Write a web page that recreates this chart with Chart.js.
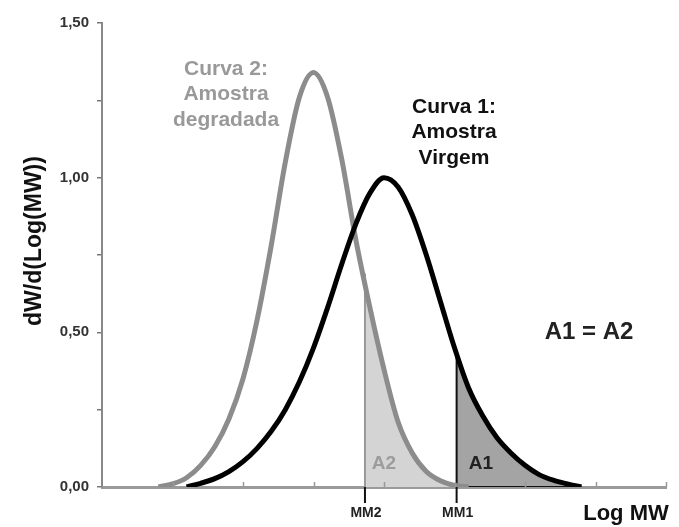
<!DOCTYPE html>
<html lang="pt">
<head>
<meta charset="utf-8">
<title>Curvas de distribuição de massa molar</title>
<script src="https://cdn.jsdelivr.net/npm/chart.js@4.4.1/dist/chart.umd.min.js"></script>
<style>
  html, body { margin: 0; padding: 0; background: #fff; }
  #wrap { width: 679px; height: 527px; }
</style>
</head>
<body>
<div id="wrap"><canvas id="chart" width="679" height="527"></canvas></div>
<script>
// Curva 2 - amostra degradada
const curve2LogMW = [0.8, 1.0, 1.2, 1.4, 1.6, 1.8, 2.0, 2.2, 2.4, 2.6, 2.8, 3.0, 3.2, 3.4, 3.6, 3.8, 4.0, 4.2, 4.4, 4.6, 4.8, 5.0, 5.2];
const curve2Values = [0.00, 0.01, 0.03, 0.07, 0.13, 0.22, 0.35, 0.54, 0.78, 1.05, 1.26, 1.34, 1.26, 1.06, 0.80, 0.58, 0.38, 0.21, 0.11, 0.05, 0.02, 0.005, 0.00];

// Curva 1 - amostra virgem
const curve1LogMW = [1.2, 1.4, 1.6, 1.8, 2.0, 2.2, 2.4, 2.6, 2.8, 3.0, 3.2, 3.4, 3.6, 3.8, 4.0, 4.2, 4.4, 4.6, 4.8, 5.0, 5.2, 5.4, 5.6, 5.8, 6.0, 6.2, 6.4, 6.6, 6.8];
const curve1Values = [0.00, 0.012, 0.027, 0.05, 0.082, 0.125, 0.18, 0.25, 0.34, 0.45, 0.58, 0.72, 0.85, 0.95, 1.00, 0.97, 0.88, 0.75, 0.60, 0.45, 0.32, 0.23, 0.16, 0.11, 0.07, 0.04, 0.022, 0.01, 0.00];

// cut points MM2 / MM1 and curve height at each
const mmLabels = ['MM2', 'MM1'];
const mmLogMW = [3.73, 5.03];
const mmCurveValues = [0.69, 0.43];

// y axis
const yTickValues = [0, 0.5, 1.0, 1.5];
const yTickLabels = ['0,00', '0,50', '1,00', '1,50'];

const FONT = '"Liberation Sans", Arial, sans-serif';

function toPoints(xs, ys) {
    return xs.map((x, i) => ({ x: x, y: ys[i] }));
}

// area right of a cut point, under a curve
function areaFrom(xs, ys, cutX, cutY) {
    const pts = [{ x: cutX, y: cutY }];
    xs.forEach((x, i) => { if (x > cutX) pts.push({ x: x, y: ys[i] }); });
    return pts;
}

const extrasPlugin = {
    id: 'extras',
    afterDatasetsDraw(chart) {
        const { ctx, scales: { x, y } } = chart;
        const base = y.getPixelForValue(0);
        ctx.save();

        // small ticks on the x axis, pointing up
        ctx.strokeStyle = '#999';
        ctx.lineWidth = 1.5;
        for (let v = 1; v <= 8; v++) {
            const px = Math.round(x.getPixelForValue(v)) + 0.5;
            ctx.beginPath();
            ctx.moveTo(px, base);
            ctx.lineTo(px, base - 5);
            ctx.stroke();
        }

        // MM ticks and labels
        ctx.strokeStyle = '#111';
        ctx.lineWidth = 2;
        ctx.fillStyle = '#222';
        ctx.font = 'bold 14px ' + FONT;
        ctx.textAlign = 'center';
        ctx.textBaseline = 'middle';
        mmLogMW.forEach((v, i) => {
            const px = x.getPixelForValue(v);
            ctx.beginPath();
            ctx.moveTo(px, base);
            ctx.lineTo(px, base + 16);
            ctx.stroke();
            ctx.fillText(mmLabels[i], px + 1, base + 26);
        });
        ctx.restore();
    },
    afterDraw(chart) {
        const ctx = chart.ctx;
        ctx.save();
        ctx.textAlign = 'center';
        ctx.textBaseline = 'middle';

        // y axis title
        ctx.save();
        ctx.translate(35, 241);
        ctx.rotate(-Math.PI / 2);
        ctx.fillStyle = '#111';
        ctx.font = 'bold 23px ' + FONT;
        ctx.fillText('dW/d(Log(MW))', 0, 0);
        ctx.restore();

        // x axis title
        ctx.fillStyle = '#111';
        ctx.font = 'bold 22px ' + FONT;
        ctx.fillText('Log MW', 626, 514);

        // curve labels
        ctx.font = 'bold 21px ' + FONT;
        ctx.fillStyle = '#999';
        ['Curva 2:', 'Amostra', 'degradada'].forEach((t, i) => ctx.fillText(t, 226, 69 + i * 25.5));
        ctx.fillStyle = '#111';
        ['Curva 1:', 'Amostra', 'Virgem'].forEach((t, i) => ctx.fillText(t, 454, 107 + i * 25.5));

        // areas
        ctx.font = 'bold 19px ' + FONT;
        ctx.fillStyle = '#9c9c9c';
        ctx.fillText('A2', 384, 464);
        ctx.fillStyle = '#222';
        ctx.fillText('A1', 481, 464);

        ctx.font = 'bold 24px ' + FONT;
        ctx.fillText('A1 = A2', 589, 332);
        ctx.restore();
    }
};

const ctx = document.getElementById('chart').getContext('2d');
const chart = new Chart(ctx, {
    type: 'line',
    data: {
        datasets: [
            {
                label: 'Curva 1',
                data: toPoints(curve1LogMW, curve1Values),
                borderColor: '#000',
                borderWidth: 5,
                cubicInterpolationMode: 'monotone',
                pointRadius: 0,
                fill: false,
                order: 0
            },
            {
                label: 'Curva 2',
                data: toPoints(curve2LogMW, curve2Values),
                borderColor: '#8c8c8c',
                borderWidth: 5,
                cubicInterpolationMode: 'monotone',
                pointRadius: 0,
                fill: false,
                order: 1
            },
            {
                label: 'MM1 borda',
                data: [{ x: mmLogMW[1], y: mmCurveValues[1] }, { x: mmLogMW[1], y: 0 }, { x: curve1LogMW[curve1LogMW.length - 1], y: 0 }],
                borderColor: '#111',
                borderWidth: 2,
                tension: 0,
                pointRadius: 0,
                fill: false,
                order: 2
            },
            {
                label: 'MM2 borda',
                data: [{ x: mmLogMW[0], y: mmCurveValues[0] }, { x: mmLogMW[0], y: 0 }],
                borderColor: '#999',
                borderWidth: 2,
                tension: 0,
                pointRadius: 0,
                fill: false,
                order: 3
            },
            {
                label: 'A1',
                data: areaFrom(curve1LogMW, curve1Values, mmLogMW[1], mmCurveValues[1]),
                borderWidth: 0,
                backgroundColor: '#a4a4a4',
                cubicInterpolationMode: 'monotone',
                pointRadius: 0,
                fill: 'origin',
                order: 4
            },
            {
                label: 'A2',
                data: areaFrom(curve2LogMW, curve2Values, mmLogMW[0], mmCurveValues[0]),
                borderWidth: 0,
                backgroundColor: '#d4d4d4',
                cubicInterpolationMode: 'monotone',
                pointRadius: 0,
                fill: 'origin',
                order: 5
            }
        ]
    },
    options: {
        responsive: false,
        animation: false,
        devicePixelRatio: 1,
        layout: { padding: { top: 23, right: 13, left: 0, bottom: 0 } },
        plugins: {
            legend: { display: false },
            tooltip: { enabled: false }
        },
        scales: {
            x: {
                type: 'linear',
                min: 0,
                max: 8,
                ticks: { display: false },
                grid: { display: false },
                border: { display: true, color: '#9a9a9a', width: 3 },
                afterFit: s => { s.height = 40; }
            },
            y: {
                min: 0,
                max: 1.5,
                ticks: {
                    stepSize: 0.25,
                    padding: 8,
                    color: '#333',
                    font: { family: FONT, size: 15, weight: 'bold' },
                    callback: v => {
                        const i = yTickValues.findIndex(t => Math.abs(t - v) < 1e-6);
                        return i >= 0 ? yTickLabels[i] : '';
                    }
                },
                grid: {
                    drawOnChartArea: false,
                    drawTicks: true,
                    tickLength: 5,
                    color: '#777',
                    lineWidth: 1.5
                },
                border: { display: true, color: '#888', width: 2 },
                afterFit: s => { s.width = 102; }
            }
        }
    },
    plugins: [extrasPlugin]
});
</script>
</body>
</html>
